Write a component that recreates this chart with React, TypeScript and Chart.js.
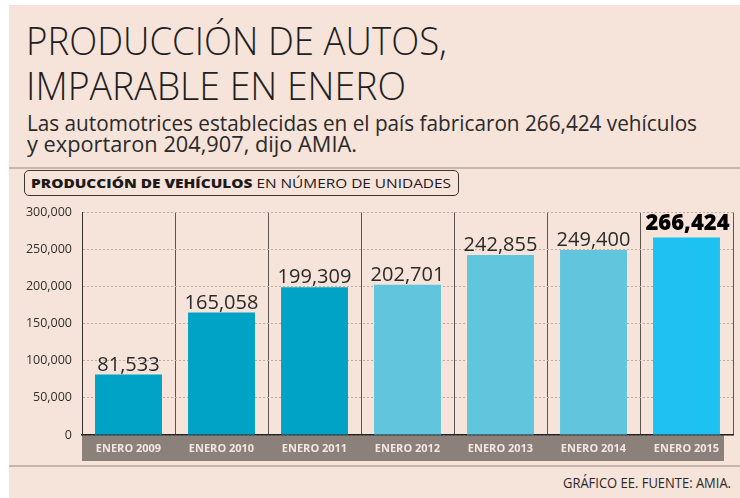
import React, { useEffect, useLayoutEffect, useRef } from "react";
import { Chart, registerables } from "chart.js";

Chart.register(...registerables);

const categories = [
  "ENERO 2009",
  "ENERO 2010",
  "ENERO 2011",
  "ENERO 2012",
  "ENERO 2013",
  "ENERO 2014",
  "ENERO 2015",
];
const values = [81533, 165058, 199309, 202701, 242855, 249400, 266424];
const barColors = [
  "#00a3c6",
  "#00a3c6",
  "#00a3c6",
  "#62c5de",
  "#62c5de",
  "#62c5de",
  "#1dc1f2",
];
const yMin = 0;
const yMax = 300000;
const yStep = 50000;

const fmt = (v: number) => v.toLocaleString("en-US");

function FitText({
  width,
  style,
  children,
}: {
  width: number;
  style: React.CSSProperties;
  children: React.ReactNode;
}) {
  const ref = useRef<HTMLSpanElement>(null);
  useLayoutEffect(() => {
    const el = ref.current;
    if (!el) return;
    el.style.transform = "none";
    const w = el.getBoundingClientRect().width;
    if (w > 0) el.style.transform = `scaleX(${width / w})`;
  }, [width]);
  return (
    <span
      ref={ref}
      style={{
        position: "absolute",
        display: "inline-block",
        whiteSpace: "nowrap",
        transformOrigin: "left top",
        ...style,
      }}
    >
      {children}
    </span>
  );
}

const bandPlugin = {
  id: "band",
  beforeDraw(chart: any) {
    const { ctx, chartArea } = chart;
    ctx.save();
    ctx.fillStyle = "#8b807a";
    ctx.fillRect(chartArea.left, chartArea.bottom, chartArea.right - chartArea.left - 9, 26);
    ctx.restore();
  },
};

const labelPlugin = {
  id: "valueLabels",
  afterDatasetsDraw(chart: any) {
    const { ctx } = chart;
    const meta = chart.getDatasetMeta(0);
    meta.data.forEach((bar: any, i: number) => {
      const last = i === values.length - 1;
      ctx.save();
      ctx.font = last ? "800 22px 'Open Sans'" : "20px 'Open Sans'";
      ctx.fillStyle = last ? "#000000" : "#2a2a2a";
      ctx.textAlign = "center";
      ctx.textBaseline = "alphabetic";
      ctx.fillText(fmt(values[i]), bar.x + (last ? 1 : 0), bar.y - (last ? 7 : 4));
      ctx.restore();
    });
  },
};

function BarChart() {
  const canvasRef = useRef<HTMLCanvasElement>(null);
  useEffect(() => {
    const canvas = canvasRef.current;
    if (!canvas) return;
    const chart = new Chart(canvas, {
      type: "bar",
      data: {
        labels: categories,
        datasets: [
          {
            data: values,
            backgroundColor: barColors,
            borderWidth: 0,
            barPercentage: 0.72,
            categoryPercentage: 1,
          },
        ],
      },
      options: {
        animation: false,
        responsive: false,
        maintainAspectRatio: false,
        layout: { padding: { top: 12, right: 7, bottom: 9, left: 0 } },
        plugins: {
          legend: { display: false },
          tooltip: { enabled: false },
          title: { display: false },
        },
        scales: {
          x: {
            grid: {
              display: true,
              offset: true,
              color: "#5a5350",
              lineWidth: 1,
              drawTicks: false,
            },
            border: { display: true, color: "#222222", width: 1.5 },
            ticks: {
              color: "#f2e8e2",
              font: { family: "'Open Sans'", weight: "bold", size: 11 },
              padding: 7,
              maxRotation: 0,
              autoSkip: false,
            },
            afterFit: (s: any) => {
              s.height = 26;
            },
          },
          y: {
            min: yMin,
            max: yMax,
            ticks: {
              stepSize: yStep,
              callback: (v: any) => fmt(Number(v)),
              color: "#2f2f2f",
              font: { family: "'Open Sans'", size: 12.5 },
              padding: 10,
            },
            grid: {
              color: "#bcaca2",
              lineWidth: 1,
              drawTicks: false,
            },
            border: { display: true, color: "#333333", width: 1, dash: [2, 2] },
            afterFit: (s: any) => {
              s.width = 82;
            },
          },
        },
      },
      plugins: [bandPlugin, labelPlugin],
    });
    return () => chart.destroy();
  }, []);
  return (
    <canvas
      ref={canvasRef}
      width={740}
      height={275}
      style={{ position: "absolute", left: 0, top: 195, width: 740, height: 275 }}
    />
  );
}

export default function App() {
  useEffect(() => {
    document.body.style.margin = "0";
  }, []);
  document.body.style.margin = "0";
  const font = "'Open Sans', sans-serif";
  return (
    <div style={{ position: "relative", width: 740, height: 498, background: "#ffffff", overflow: "hidden" }}>
      <div style={{ position: "absolute", left: 9, top: 5, width: 731, height: 493, background: "#f6e3d9" }} />
      <FitText
        width={421}
        style={{ left: 26, top: 21, fontFamily: font, fontWeight: 300, fontSize: 38, lineHeight: "38px", color: "#221e1f" }}
      >
        PRODUCCIÓN DE AUTOS,
      </FitText>
      <FitText
        width={380}
        style={{ left: 26, top: 66, fontFamily: font, fontWeight: 300, fontSize: 38, lineHeight: "38px", color: "#221e1f" }}
      >
        IMPARABLE EN ENERO
      </FitText>
      <FitText
        width={670}
        style={{ left: 27, top: 111, fontFamily: font, fontSize: 22, lineHeight: "22px", color: "#2a2a2a" }}
      >
        Las automotrices establecidas en el país fabricaron 266,424 vehículos
      </FitText>
      <FitText
        width={330}
        style={{ left: 27, top: 132, fontFamily: font, fontSize: 22, lineHeight: "22px", color: "#2a2a2a" }}
      >
        y exportaron 204,907, dijo AMIA.
      </FitText>
      <div style={{ position: "absolute", left: 9, top: 167, width: 731, height: 2, background: "#c9b6ab" }} />
      <div
        style={{
          position: "absolute",
          left: 24,
          top: 170,
          width: 435,
          height: 26,
          boxSizing: "border-box",
          border: "1.5px solid #3b3431",
          borderRadius: 5,
          background: "#f6e3d9",
        }}
      />
      <FitText
        width={420}
        style={{ left: 31, top: 176, fontFamily: font, fontSize: 13, lineHeight: "15px", color: "#1c1a1a" }}
      >
        <span style={{ fontWeight: 800 }}>PRODUCCIÓN DE VEHÍCULOS</span>
        <span> EN NÚMERO DE UNIDADES</span>
      </FitText>
      <BarChart />
      <div style={{ position: "absolute", left: 9, top: 465, width: 731, height: 2, background: "#c9b6ab" }} />
      <FitText
        width={168}
        style={{ left: 563, top: 475, fontFamily: font, fontSize: 14, lineHeight: "16px", color: "#2a2a2a" }}
      >
        GRÁFICO EE. FUENTE: AMIA.
      </FitText>
    </div>
  );
}
